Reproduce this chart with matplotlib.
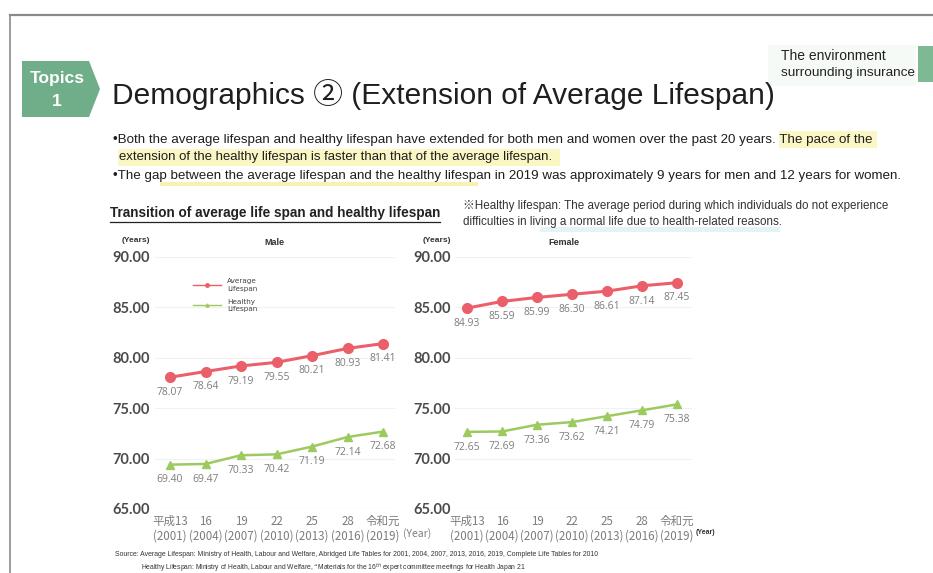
import matplotlib
matplotlib.use("Agg")
import matplotlib.pyplot as plt
from matplotlib import font_manager
from matplotlib.patches import Polygon, Rectangle
from matplotlib.lines import Line2D

# ---- data -------------------------------------------------------------
era_labels = ["平成13", "16", "19", "22", "25", "28", "令和元"]
year_labels = ["(2001)", "(2004)", "(2007)", "(2010)", "(2013)", "(2016)", "(2019)"]
y_ticks = [65, 70, 75, 80, 85, 90]

male_average = [78.07, 78.64, 79.19, 79.55, 80.21, 80.93, 81.41]
male_healthy = [69.40, 69.47, 70.33, 70.42, 71.19, 72.14, 72.68]
female_average = [84.93, 85.59, 85.99, 86.30, 86.61, 87.14, 87.45]
female_healthy = [72.65, 72.69, 73.36, 73.62, 74.21, 74.79, 75.38]

# ---- figure helpers (pixel coordinates, origin top-left) --------------
W, H = 933, 573
fig = plt.figure(figsize=(W / 100, H / 100), dpi=100)
fig.patch.set_facecolor("white")
renderer = fig.canvas.get_renderer()

installed = {f.name for f in font_manager.fontManager.ttflist}
NARROW_NAME = "Liberation Sans Narrow" if "Liberation Sans Narrow" in installed else "Liberation Sans"
SANS = ["Liberation Sans", "Noto Sans CJK JP", "DejaVu Sans"]
NARROW = [NARROW_NAME, "Noto Sans CJK JP", "DejaVu Sans"]
CJK = ["Noto Sans CJK JP", "DejaVu Sans"]


def P(x, y):
    return (x / W, 1 - y / H)


def text(x, y, s, width=None, **kw):
    kw.setdefault("family", SANS)
    t = fig.text(*P(x, y), s, **kw)
    if width is not None:
        bb = t.get_window_extent(renderer)
        t.set_fontsize(t.get_fontsize() * width / bb.width)
    return t


def hband(x0, x1, y0, y1, color, z=0):
    fig.add_artist(Rectangle(P(x0, y1), (x1 - x0) / W, (y1 - y0) / H,
                             transform=fig.transFigure, facecolor=color,
                             edgecolor="none", zorder=z))


# ---- page frame -------------------------------------------------------
fig.add_artist(Line2D([10 / W, 1], [1 - 15 / H] * 2, transform=fig.transFigure,
                      color="#8a8a8a", lw=1.6))
fig.add_artist(Line2D([10 / W] * 2, [1 - 15 / H, 0], transform=fig.transFigure,
                      color="#8a8a8a", lw=1.2))

# ---- header -----------------------------------------------------------
topic = Polygon([P(22, 61), P(89, 61), P(100, 89), P(89, 117), P(22, 117)],
                closed=True, transform=fig.transFigure,
                facecolor="#6fae88", edgecolor="none")
fig.add_artist(topic)
text(57, 79, "Topics", ha="center", va="center", color="white",
     fontweight="bold", fontsize=12.5)
text(57, 102, "1", ha="center", va="center", color="white",
     fontweight="bold", fontsize=12.5)

text(112, 95, "Demographics ② (Extension of Average Lifespan)", width=663,
     ha="left", va="center", color="#1e1e1e", fontsize=21)

hband(768, 916, 45, 86, "#f6faf7")
fig.add_artist(Rectangle(P(918, 82), 15 / W, 36 / H, transform=fig.transFigure,
                         facecolor="#7db993", edgecolor="none"))
text(781, 56, "The environment", width=104, ha="left", va="center",
     color="#222222", fontsize=9)
text(781, 73, "surrounding insurance", width=134, ha="left", va="center",
     color="#222222", fontsize=9)

# ---- bullet text ------------------------------------------------------
hband(779, 877, 131, 148, "#fbf7c4")
hband(118, 560, 149, 166, "#fbf7c4")
hband(160, 478, 182, 186, "#f8f2b0")
text(113, 140, "•Both the average lifespan and healthy lifespan have extended for both "
     "men and women over the past 20 years. The pace of the", width=763,
     ha="left", va="center", color="#1e1e1e", fontsize=9, family=NARROW)
text(119, 157, "extension of the healthy lifespan is faster than that of the average lifespan.",
     width=436, ha="left", va="center", color="#1e1e1e", fontsize=9, family=NARROW)
text(113, 176, "•The gap between the average lifespan and the healthy lifespan in 2019 was "
     "approximately 9 years for men and 12 years for women.", width=792,
     ha="left", va="center", color="#1e1e1e", fontsize=9, family=NARROW)

text(110, 213, "Transition of average life span and healthy lifespan", width=330,
     ha="left", va="center", color="#222222", fontweight="bold", fontsize=9, family=NARROW)
fig.add_artist(Line2D([110 / W, 440 / W], [1 - 222 / H] * 2, transform=fig.transFigure,
                      color="#222222", lw=0.9))

hband(540, 780, 227, 232, "#e4f4f6")
text(463, 206, "※Healthy lifespan: The average period during which individuals do not experience",
     width=424, ha="left", va="center", color="#333333", fontsize=7, family=NARROW)
text(463, 222, "difficulties in living a normal life due to health-related reasons.",
     width=317, ha="left", va="center", color="#333333", fontsize=7, family=NARROW)

# ---- source -----------------------------------------------------------
text(115, 555, "Source: Average Lifespan: Ministry of Health, Labour and Welfare, Abridged "
     "Life Tables for 2001, 2004, 2007, 2013, 2016, 2019, Complete Life Tables for 2010",
     width=495, ha="left", va="center", color="#333333", fontsize=5)
text(141, 567, "Healthy Lifespan: Ministry of Health, Labour and Welfare, \u201cMaterials for "
     "the 16$^{th}$ expert committee meetings for Health Japan 21",
     width=390, ha="left", va="center", color="#333333", fontsize=5)

# ---- charts -----------------------------------------------------------
RED = "#ea5f6a"
GREEN = "#9dca5f"
LABEL = "#7d7d7d"


def panel(left, right, first_x, step, avg, healthy, title, title_x, ylab_x, pad_px):
    ax = fig.add_axes([left / W, 1 - 509 / H, (right - left) / W, (509 - 257) / H])
    ax.set_ylim(65, 90)
    ax.set_xlim((left - first_x) / step, (right - first_x) / step)
    for s in ax.spines.values():
        s.set_visible(False)
    for v in y_ticks:
        ax.axhline(v, color="#d8d8d8" if v == 65 else "#f1f1f1", lw=0.8, zorder=0)
    ax.set_yticks(y_ticks)
    ax.set_yticklabels([f"{v:.2f}" for v in y_ticks], family="Lato",
                       fontweight="bold", fontsize=10.5, color="#4a4a4a")
    xs = list(range(len(era_labels)))
    ax.set_xticks(xs)
    ax.set_xticklabels([f"{e}\n{y}" for e, y in zip(era_labels, year_labels)],
                       family=CJK, fontsize=8.3, color=LABEL, linespacing=1.2)
    ax.tick_params(axis="y", length=0, pad=pad_px * 0.72)
    ax.tick_params(axis="x", length=0, pad=4)

    ax.plot(xs, avg, color=RED, lw=2.2, marker="o", ms=7, mfc=RED, mec=RED, zorder=3)
    ax.plot(xs, healthy, color=GREEN, lw=1.8, marker="^", ms=5.5, mfc=GREEN, mec=GREEN,
            zorder=3)
    for series in (avg, healthy):
        for i, v in enumerate(series):
            ax.annotate(f"{v:.2f}", (i, v), xytext=(0, -11), textcoords="offset points",
                        ha="center", va="center", fontsize=7.5, color=LABEL,
                        family="Open Sans")
    text(title_x, 243, title, ha="center", va="center", color="#333333", fontsize=6.5,
         fontweight="bold")
    text(ylab_x, 240, "(Years)", ha="center", va="center", color="#333333", fontsize=6,
         fontweight="bold")
    return ax


ax_m = panel(155, 395, 170, 35.5, male_average, male_healthy, "Male", 274, 136, 5)
ax_f = panel(455, 692, 467, 35.0, female_average, female_healthy, "Female", 564, 437, 4)

text(417, 534, "(Year)", ha="center", va="center", color=LABEL, fontsize=7.5, family=CJK)
text(705, 533, "(Year)", ha="center", va="center", color="#333333", fontsize=5,
     fontweight="bold")

handles = [Line2D([], [], color=RED, lw=1.0, marker="o", ms=2.5),
           Line2D([], [], color=GREEN, lw=1.0, marker="^", ms=2.2)]
ax_m.legend(handles, ["Average\nLifespan", "Healthy\nLifespan"], loc="upper left",
            bbox_to_anchor=P(186, 272), bbox_transform=fig.transFigure, frameon=False,
            fontsize=5.2, handlelength=4, handletextpad=0.8, labelspacing=1.0,
            labelcolor="#444444")

fig.savefig("out.png", dpi=100, facecolor="white")
